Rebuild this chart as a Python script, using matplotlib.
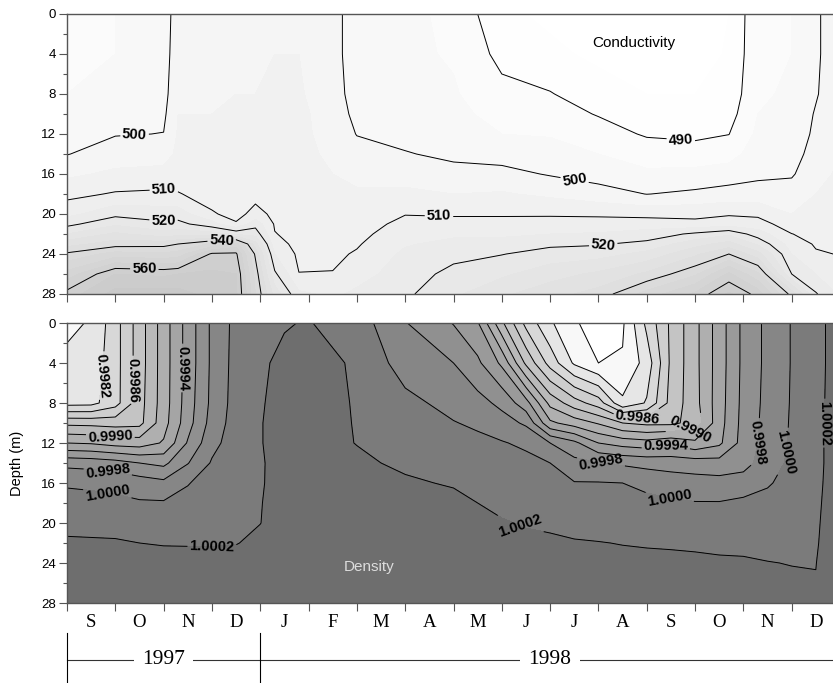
import numpy as np
import matplotlib
matplotlib.use("Agg")
import matplotlib.pyplot as plt
import matplotlib.transforms as mtransforms
from matplotlib.colors import Normalize

plt.rcParams["font.family"] = ["Liberation Sans", "DejaVu Sans"]

# x axis: months since 1 Sep 1997
month_labels = ["S", "O", "N", "D", "J", "F", "M", "A", "M", "J", "J", "A", "S", "O", "N", "D"]
years = ["1997", "1998"]
year_starts = [0, 4]
year_ends = [4, 16]

# conductivity: one depth profile per time node
cond_times = [0, 1, 2, 2.3, 3, 3.5, 3.9, 4.3, 4.8, 5.5, 6, 7, 8, 9, 10, 11, 12, 13, 13.7, 14.3, 15, 15.5, 16]
cond_depths = [0, 4, 8, 10, 12, 14, 16, 18, 20, 21, 22, 23, 24, 26, 28]
cond_profiles = [
    [495, 495, 495, 496, 497.5, 499.8, 504, 508.5, 513.5, 518.5, 525, 533, 541, 552, 562],
    [495, 495, 496, 497.5, 499.7, 502.5, 506, 510.5, 518.5, 524, 531, 537.5, 547, 565, 572],
    [496, 497, 498, 499, 500.1, 503, 506.5, 511, 517.5, 521, 527, 538, 546, 564, 572],
    [504, 504, 504.5, 505, 505.5, 506, 507.5, 510.3, 517.5, 521.5, 528, 540, 547, 565, 572],
    [504, 504.5, 505, 505, 505.5, 506, 507, 508, 510.5, 517, 527, 546, 561, 566, 568],
    [504, 504.5, 505, 505.5, 506, 506, 507, 508, 508.5, 510.5, 524, 552, 561, 565, 566],
    [504, 504.5, 505, 505.5, 506, 506.5, 507.5, 508.5, 511.5, 518, 523, 532, 539, 543, 545],
    [505, 505, 505.5, 506, 506.5, 507, 507.5, 508, 509, 509.5, 510.2, 512, 515, 521, 528],
    [505, 505, 505.5, 506, 506, 506.5, 507, 507.5, 508, 508, 508.5, 508.5, 509, 510.1, 516],
    [502, 502, 502.5, 503, 503.5, 504, 505, 506, 507, 507.5, 508, 508.5, 509, 510.2, 514],
    [497, 497, 497.5, 498.5, 499.8, 502, 504, 505.5, 507, 507.5, 508.5, 509.5, 510.5, 513, 516],
    [496, 496, 497, 497.5, 498.5, 500.3, 503, 506, 509.8, 511.5, 513, 514.5, 516, 517.5, 519],
    [494, 494.5, 495.5, 496.5, 497.5, 499, 501.5, 505, 509.5, 511.5, 514, 516.5, 518.5, 521.5, 524],
    [486, 488.5, 491.5, 493, 495, 498, 501.5, 505.5, 509.5, 511.5, 514, 517, 519.8, 524, 529],
    [484, 486, 490.3, 492, 494.5, 497.5, 499.6, 504, 509.4, 512, 515, 519, 522, 528, 533],
    [483, 484, 487, 489.7, 492, 495, 498, 502, 509.2, 512, 515.5, 519.5, 523, 531, 537],
    [482, 483, 485, 487, 489.5, 492.5, 496, 499.9, 508.5, 512.5, 517, 521.5, 526.5, 536, 547],
    [482, 483, 485, 487, 489, 492, 496.5, 501, 508.5, 511.5, 521, 528, 534, 544, 556],
    [485, 485.5, 486.5, 488, 489.9, 493, 497.5, 502, 509.5, 512.5, 524, 532, 540, 556, 566],
    [494, 494, 494.5, 495, 496, 497.5, 499, 502, 509, 512, 517.5, 524, 532, 546, 558],
    [495, 495, 495.5, 496, 497, 498, 499.5, 502, 505, 507.5, 510.1, 512.5, 515, 520, 538],
    [499, 499, 499.5, 500.5, 501, 502, 503, 505, 507, 507.5, 508.5, 509.5, 510.5, 515, 520.5],
    [504, 504, 504, 504.5, 504.5, 505, 506, 507, 508, 508.5, 509, 509.5, 509.8, 511, 514],
]

# density: anomaly in units of 1e-4 (density = 1 + a * 1e-4), one profile per time node
dens_times = [0, 0.5, 1, 1.5, 2, 2.5, 3, 3.5, 4, 4.5, 5, 6, 7, 8, 8.5, 9, 9.5, 10,
              10.5, 11, 11.5, 12, 12.5, 13, 13.5, 14, 14.5, 15, 15.5, 16]
dens_depths = [0, 4, 8, 10, 12, 14, 16, 18, 20, 22, 24, 28]
dens_profiles = [
    [-20.5, -19.5, -18.7, -12.5, -8, -2.6, -0.2, 0.6, 1.4, 2.3, 3, 3.5],
    [-19.8, -19.2, -18.6, -12.6, -8.2, -2.8, -0.3, 0.5, 1.35, 2.25, 2.9, 3.4],
    [-16.8, -16.8, -16.8, -12.8, -8.8, -3.2, -0.5, 0.4, 1.3, 2.2, 2.8, 3.4],
    [-13, -13, -12.8, -12.6, -9, -4, -1.0, 0.2, 1.0, 2.0, 2.7, 3.3],
    [-9, -9, -9, -8.8, -7.8, -4.5, -1.5, 0.2, 0.9, 1.9, 2.6, 3.2],
    [-5.2, -5.2, -5, -4.8, -3.8, -2.1, -0.1, 0.6, 1.3, 1.9, 2.5, 3.1],
    [-1.6, -1.6, -1.5, -1.2, -0.6, 0.2, 0.8, 1.1, 1.5, 1.9, 2.5, 3],
    [0.6, 0.7, 0.8, 0.9, 1.0, 1.2, 1.4, 1.6, 1.8, 1.95, 2.5, 3],
    [1.3, 1.8, 1.9, 1.95, 1.95, 1.9, 1.9, 1.95, 1.98, 2.3, 2.7, 3.1],
    [1.9, 2.3, 2.4, 2.4, 2.4, 2.4, 2.45, 2.5, 2.6, 2.8, 3, 3.3],
    [2.1, 2.3, 2.4, 2.4, 2.45, 2.5, 2.5, 2.6, 2.7, 2.8, 3, 3.3],
    [1.0, 1.9, 1.93, 1.95, 1.97, 2.2, 2.4, 2.5, 2.7, 2.8, 3, 3.3],
    [-1.9, -1.0, 0.6, 1.0, 1.4, 1.8, 2.15, 2.4, 2.6, 2.8, 3, 3.3],
    [-4.1, -2.0, -0.7, 0.1, 0.7, 1.3, 1.9, 2.3, 2.5, 2.7, 2.9, 3.2],
    [-5.8, -3.6, -1.3, -0.35, 0.5, 1.1, 1.6, 2.0, 2.4, 2.6, 2.8, 3.2],
    [-11.6, -6.4, -2.5, -1.2, 0.15, 0.8, 1.3, 1.7, 2.1, 2.4, 2.7, 3.1],
    [-16.6, -12.4, -5.2, -2.3, -0.4, 0.6, 1.1, 1.5, 1.9, 2.3, 2.6, 3.0],
    [-19.7, -16.8, -10.6, -7.6, -2.0, 0.0, 0.8, 1.3, 1.7, 2.3, 2.5, 3.0],
    [-21.8, -20.3, -13.1, -8.9, -3.5, -1.4, 0.1, 0.9, 1.6, 2.1, 2.5, 3.0],
    [-22.8, -22.0, -15.0, -10.2, -6.0, -1.9, 0.1, 0.8, 1.4, 2.05, 2.4, 2.9],
    [-22.3, -21.8, -19.6, -12, -6.8, -2.3, 0.0, 0.7, 1.3, 1.95, 2.4, 2.9],
    [-17.5, -19.2, -17.8, -12.5, -7.2, -2.6, -0.6, 0.6, 1.3, 1.9, 2.3, 2.9],
    [-13.6, -13.6, -13.3, -12.5, -6.5, -2.8, -1, 0.3, 1.2, 1.85, 2.3, 2.9],
    [-10.6, -10.6, -10.7, -11.2, -7.5, -3, -1.2, 0.1, 1.1, 1.8, 2.25, 2.8],
    [-7, -7, -6.9, -6.8, -6.4, -3.2, -1.3, 0.1, 1.0, 1.7, 2.2, 2.8],
    [-3.5, -3.5, -3.4, -3.3, -3.2, -2.8, -1.0, 0.4, 1.0, 1.6, 2.2, 2.7],
    [-1.5, -1.5, -1.4, -1.3, -1.2, -0.9, -0.2, 0.6, 1.0, 1.5, 2.05, 2.7],
    [0.1, 0.1, 0.15, 0.2, 0.25, 0.4, 0.7, 1.0, 1.3, 1.6, 1.95, 2.6],
    [1.6, 1.6, 1.65, 1.65, 1.7, 1.7, 1.75, 1.8, 1.85, 1.9, 1.98, 2.1],
    [2.6, 2.6, 2.6, 2.6, 2.6, 2.6, 2.6, 2.65, 2.7, 2.75, 2.8, 3.0],
]

cond_line_levels = [490, 500, 510, 520, 540, 560]
# density lines every 2e-4; these anomalies get a label
dens_line_anom = [-22, -20, -18, -16, -14, -12, -10, -8, -6, -4, -2, 0, 2]
dens_label_anom = [-18, -14, -10, -6, -2, 0, 2]
# grey shade of each density band, lightest to darkest
dens_band_grey = [255, 248, 230, 216, 206, 196, 185, 175, 165, 154, 144, 134, 123, 110]

# where the contour labels sit (month, depth)
cond_label_pos = [(1.4, 12.2), (10.5, 16.8), (2.0, 17.7), (7.7, 20.1), (2.0, 20.6),
                  (11.1, 23.1), (3.2, 22.5), (1.6, 25.6), (12.7, 12.9)]
dens_label_pos = [(0.6, 5.2), (1.35, 5.7), (2.4, 4.5), (0.9, 11.2), (0.85, 14.6),
                  (0.85, 16.6), (3.0, 22.3), (11.8, 9.0), (12.9, 10.9), (12.4, 12.5),
                  (11.05, 13.9), (12.5, 16.9), (9.4, 20.0), (14.5, 12.0), (15.0, 13.0),
                  (15.62, 10.0)]

W, H = 833, 683
fig = plt.figure(figsize=(W / 100, H / 100), dpi=100)


def make_axes(top_px):
    return fig.add_axes([67 / W, 1 - (top_px + 280) / H, (840 - 67) / W, 280 / H])


ax1 = make_axes(14)
ax2 = make_axes(323)

# conductivity panel
tc, dc = np.meshgrid(cond_times, cond_depths)
cond = np.array(cond_profiles).T
ax1.contourf(tc, dc, cond, levels=np.arange(480, 585, 5), cmap="gray_r",
             norm=Normalize(485, 893), extend="both")
cs1 = ax1.contour(tc, dc, cond, levels=cond_line_levels, colors="black", linewidths=0.7)
ax1.clabel(cs1, fmt="%d", fontsize=10.5, inline=True, inline_spacing=2,
           manual=cond_label_pos)
for t in cs1.labelTexts:
    t.set_fontweight("bold")
ax1.text(11.74, 2.9, "Conductivity", ha="center", va="center", fontsize=11)

# density panel
td, dd = np.meshgrid(dens_times, dens_depths)
dens = 1 + np.array(dens_profiles).T * 1e-4
fill_levels = [1 + a * 1e-4 for a in [-30] + dens_line_anom + [10]]
band_colors = [(g / 255, g / 255, g / 255) for g in dens_band_grey]
ax2.contourf(td, dd, dens, levels=fill_levels, colors=band_colors)
plain = [1 + a * 1e-4 for a in dens_line_anom if a not in dens_label_anom]
ax2.contour(td, dd, dens, levels=plain, colors="black", linewidths=0.7)
cs2 = ax2.contour(td, dd, dens, levels=[1 + a * 1e-4 for a in dens_label_anom],
                  colors="black", linewidths=0.7)
ax2.clabel(cs2, fmt="%.4f", fontsize=10.5, inline=True, inline_spacing=2,
           manual=dens_label_pos)
for t in cs2.labelTexts:
    t.set_fontweight("bold")
ax2.text(6.25, 24.4, "Density", ha="center", va="center", fontsize=11, color="#dddddd")

for ax in (ax1, ax2):
    ax.set_xlim(0, 16)
    ax.set_ylim(28, 0)
    ax.set_yticks(range(0, 29, 4))
    ax.set_yticks(range(2, 28, 4), minor=True)
    ax.set_xticks(range(0, 17))
    ax.tick_params(axis="both", which="both", direction="out", color="#555555",
                   labelsize=9.5, width=0.8)
    ax.tick_params(axis="y", which="major", length=6, pad=2)
    ax.tick_params(axis="y", which="minor", length=3)
    ax.tick_params(axis="x", which="major", length=6)
    for s in ax.spines.values():
        s.set_color("#555555")
        s.set_linewidth(1.0)

ax1.set_xticklabels([])
ax2.set_xticklabels([])
ax2.set_xticks(np.arange(16) + 0.5, minor=True)
ax2.set_xticklabels(month_labels, minor=True, fontfamily="Liberation Serif", fontsize=13.5)
ax2.tick_params(axis="x", which="minor", length=0, pad=8)

fig.text(16.5 / W, 1 - 463 / H, "Depth (m)", rotation=90, ha="center", va="center",
         fontsize=10.5)

# year brackets under the month axis
trans = mtransforms.blended_transform_factory(ax2.transData, fig.transFigure)
y_bar = 1 - 660 / H
ax2.plot([0, 16], [y_bar, y_bar], transform=trans, clip_on=False, color="#333333", lw=0.8)
for x0, x1, yr in zip(year_starts, year_ends, years):
    ax2.plot([x0, x0], [1 - 633 / H, 0], transform=trans, clip_on=False,
             color="black", lw=0.8)
    ax2.text((x0 + x1) / 2, y_bar, yr, transform=trans, ha="center", va="center",
             fontfamily="Liberation Serif", fontsize=15.5,
             bbox=dict(facecolor="white", edgecolor="none", pad=6))

fig.savefig("out.png", dpi=100)
